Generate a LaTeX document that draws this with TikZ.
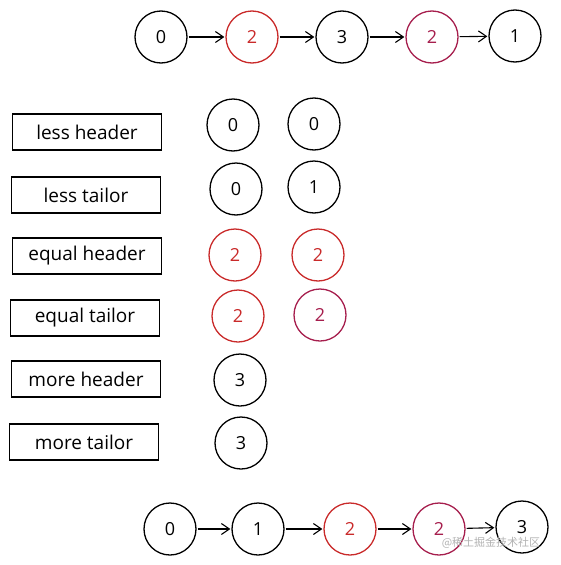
\documentclass[tikz,border=0pt]{standalone}
\usepackage{fontspec}
\setmainfont{Open Sans}
\newfontfamily\cjkfont{Noto Sans CJK SC}
\usetikzlibrary{arrows.meta}
\definecolor{exred}{HTML}{C92A2A}
\definecolor{expink}{HTML}{A61E4D}
\begin{document}
\begin{tikzpicture}[x=1pt,y=-1pt,
  nodecirc/.style={circle, draw, line width=1.3pt, minimum size=52pt, inner sep=0pt, font=\fontsize{18}{18}\selectfont},
  rednode/.style={nodecirc, draw=exred, text=exred},
  pinknode/.style={nodecirc, draw=expink, text=expink},
  labelbox/.style={draw, line width=1.3pt, minimum width=149pt, minimum height=36pt, inner sep=0pt, font=\fontsize{19}{19}\selectfont},
  link/.style={-{Straight Barb[length=8pt,width=11pt]}, line width=1.1pt, shorten <=1pt, shorten >=1pt}]
\useasboundingbox (0,0) rectangle (560,565);
% top list
\node[nodecirc] (t0) at (161,37) {0};
\node[rednode]  (t1) at (252,37) {2};
\node[nodecirc] (t2) at (342,37) {3};
\node[pinknode] (t3) at (432,37) {2};
\node[nodecirc] (t4) at (515,36) {1};
\draw[link] (t0) -- (t1);
\draw[link] (t1) -- (t2);
\draw[link] (t2) -- (t3);
\draw[link] (t3) -- (t4);
% labels
\node[labelbox] (lh) at (87,132) {less header};
\node[labelbox] (lt) at (86,195) {less tailor};
\node[labelbox] (eh) at (87,256) {equal header};
\node[labelbox] (et) at (85,318) {equal tailor};
\node[labelbox] (mh) at (86,379) {more header};
\node[labelbox] (mt) at (84,442) {more tailor};
% columns
\node[nodecirc] (lh1) at (233,125) {0};
\node[nodecirc] (lh2) at (314,124) {0};
\node[nodecirc] (lt1) at (236,189) {0};
\node[nodecirc] (lt2) at (314,187) {1};
\node[rednode]  (eh1) at (235,255) {2};
\node[rednode]  (eh2) at (318,255) {2};
\node[rednode]  (et1) at (238,316) {2};
\node[pinknode] (et2) at (320,315) {2};
\node[nodecirc] (mh1) at (240,380) {3};
\node[nodecirc] (mt1) at (241,443) {3};
% bottom list
\node[nodecirc] (b0) at (170,529) {0};
\node[nodecirc] (b1) at (258,529) {1};
\node[rednode]  (b2) at (350,529) {2};
\node[pinknode] (b3) at (439,529) {2};
\node[nodecirc] (b4) at (522,527) {3};
\draw[link] (b0) -- (b1);
\draw[link] (b1) -- (b2);
\draw[link] (b2) -- (b3);
\draw[link] (b3) -- (b4);
% watermark
\node[text=black!30, font=\cjkfont\fontsize{11}{11}\selectfont] (wm) at (491,543) {@稀土掘金技术社区};
\end{tikzpicture}
\end{document}
